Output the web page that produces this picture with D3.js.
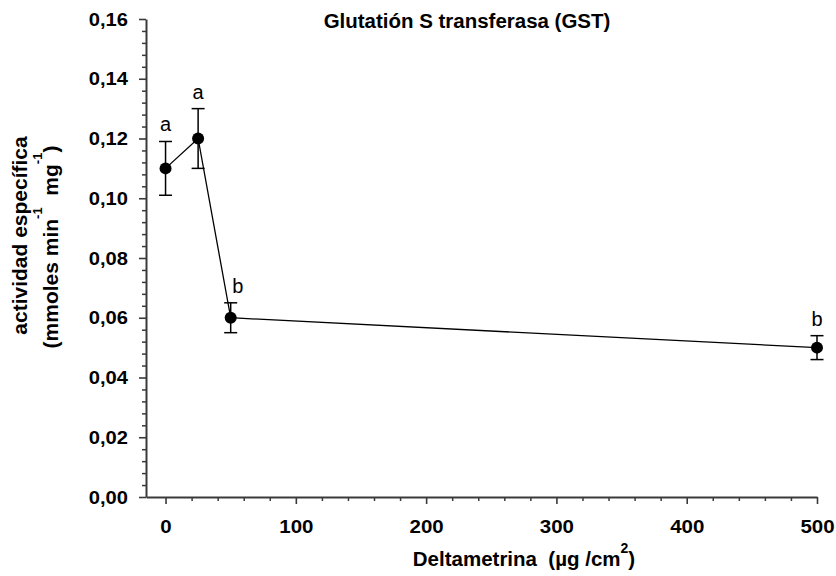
<!DOCTYPE html>
<html>
<head>
<meta charset="utf-8">
<script src="https://cdn.jsdelivr.net/npm/d3@7"></script>
<style>
  body { margin: 0; background: #fff; }
  svg { display: block; }
  text { font-family: "Liberation Sans", Arial, Helvetica, sans-serif; }
</style>
</head>
<body>
<svg id="chart" width="836" height="576"></svg>
<script>
// Actividad GST frente a la dosis de deltametrina
const doses = [0, 25, 50, 500];
const activity = [0.110, 0.120, 0.060, 0.050];
const stdError = [0.009, 0.010, 0.005, 0.004];
const groups = ["a", "a", "b", "b"];
const xTicks = [0, 100, 200, 300, 400, 500];
const yTicks = [0, 0.02, 0.04, 0.06, 0.08, 0.10, 0.12, 0.14, 0.16];

const svg = d3.select("#chart");

const x = d3.scaleLinear().domain([-15, 500]).range([146, 817]);
const y = d3.scaleLinear().domain([0, 0.16]).range([497, 19]);

const fmtComma = d3.formatLocale({ decimal: ",", thousands: ".", grouping: [3], currency: ["", ""] }).format(".2f");

// widen bold axis text slightly along its baseline
function stretch(sel, k) {
  sel.each(function () {
    const w = this.getComputedTextLength();
    this.setAttribute("textLength", w * k);
    this.setAttribute("lengthAdjust", "spacingAndGlyphs");
  });
}

const axisColor = "#3a3a3a";

// minor ticks
const xMinor = d3.range(20, 500, 20).filter(v => v % 100 !== 0);
svg.append("g")
  .attr("transform", `translate(0,${y(0)})`)
  .call(d3.axisBottom(x).tickValues(xMinor).tickSize(4).tickFormat(""))
  .call(g => g.select(".domain").remove())
  .call(g => g.selectAll("line").attr("stroke", axisColor).attr("stroke-width", 1.5));

const yMinor = d3.range(0, 41).map(i => i * 0.004).filter((v, i) => i % 5 !== 0);
svg.append("g")
  .attr("transform", `translate(${x(-15)},0)`)
  .call(d3.axisLeft(y).tickValues(yMinor).tickSize(4).tickFormat(""))
  .call(g => g.select(".domain").remove())
  .call(g => g.selectAll("line").attr("stroke", axisColor).attr("stroke-width", 1.5));

// x axis
const gx = svg.append("g")
  .attr("transform", `translate(0,${y(0)})`)
  .call(d3.axisBottom(x).tickValues(xTicks).tickSize(7).tickSizeOuter(0).tickFormat(d3.format("d")));
gx.select(".domain").attr("stroke", axisColor).attr("stroke-width", 2);
gx.selectAll(".tick line").attr("stroke", axisColor).attr("stroke-width", 1.6);
gx.selectAll(".tick text")
  .attr("y", 36).attr("dy", 0)
  .attr("fill", "#000")
  .style("font-size", "17.5px").style("font-weight", "bold")
  .call(stretch, 1.17);

// y axis
const gy = svg.append("g")
  .attr("transform", `translate(${x(-15)},0)`)
  .call(d3.axisLeft(y).tickValues(yTicks).tickSize(7).tickSizeOuter(0).tickFormat(fmtComma));
gy.select(".domain").attr("stroke", axisColor).attr("stroke-width", 2);
gy.selectAll(".tick line").attr("stroke", axisColor).attr("stroke-width", 1.6);
gy.selectAll(".tick text")
  .attr("x", -18).attr("dy", "0.35em")
  .attr("fill", "#000")
  .style("font-size", "17.5px").style("font-weight", "bold")
  .call(stretch, 1.15);

// data
const pts = doses.map((d, i) => ({ dose: d, v: activity[i], se: stdError[i], g: groups[i] }));

svg.append("path")
  .datum(pts)
  .attr("fill", "none")
  .attr("stroke", "#000")
  .attr("stroke-width", 1.3)
  .attr("d", d3.line().x(d => x(d.dose)).y(d => y(d.v)));

const capHalf = 6.5;
const eb = svg.append("g").attr("stroke", "#000").attr("stroke-width", 1.5);
pts.forEach(d => {
  const cx = x(d.dose);
  eb.append("line").attr("x1", cx).attr("x2", cx).attr("y1", y(d.v - d.se)).attr("y2", y(d.v + d.se));
  eb.append("line").attr("x1", cx - capHalf).attr("x2", cx + capHalf).attr("y1", y(d.v + d.se)).attr("y2", y(d.v + d.se));
  eb.append("line").attr("x1", cx - capHalf).attr("x2", cx + capHalf).attr("y1", y(d.v - d.se)).attr("y2", y(d.v - d.se));
});

svg.append("g").selectAll("circle")
  .data(pts)
  .join("circle")
  .attr("cx", d => x(d.dose))
  .attr("cy", d => y(d.v))
  .attr("r", 6)
  .attr("fill", "#000");

// significance letters, the one beside the steep segment moved clear of it
const letterShift = [0, 0, 7, 0];
svg.append("g").selectAll("text")
  .data(pts)
  .join("text")
  .attr("x", (d, i) => x(d.dose) + letterShift[i])
  .attr("y", d => y(d.v + d.se) - 10)
  .attr("text-anchor", "middle")
  .style("font-size", "20px")
  .attr("fill", "#000")
  .text(d => d.g);

// title
svg.append("text")
  .attr("x", 467).attr("y", 28)
  .attr("text-anchor", "middle")
  .style("font-size", "19.5px").style("font-weight", "bold")
  .text("Glutatión S transferasa (GST)")
  .call(stretch, 1.05);

// x title
const xt = svg.append("text")
  .attr("x", 524).attr("y", 566)
  .attr("text-anchor", "middle")
  .style("font-size", "20.5px").style("font-weight", "bold");
xt.append("tspan").text("Deltametrina\u00a0\u00a0(\u00b5g /cm");
xt.append("tspan").attr("dy", -13).style("font-size", "14px").text("2");
xt.append("tspan").attr("dy", 13).text(")");

// y title, two lines
svg.append("text")
  .attr("transform", "translate(26.5,235.5) rotate(-90)")
  .attr("text-anchor", "middle")
  .style("font-size", "21px").style("font-weight", "bold")
  .text("actividad específica");

const yt2 = svg.append("text")
  .attr("transform", "translate(58,247) rotate(-90)")
  .attr("text-anchor", "middle")
  .style("font-size", "21px").style("font-weight", "bold");
yt2.append("tspan").text("(mmoles min");
yt2.append("tspan").attr("dy", -16).style("font-size", "13px").text("-1");
yt2.append("tspan").attr("dy", 16).text("\u00a0 mg");
yt2.append("tspan").attr("dy", -16).style("font-size", "13px").text("-1");
yt2.append("tspan").attr("dy", 16).text(")");
</script>
</body>
</html>
